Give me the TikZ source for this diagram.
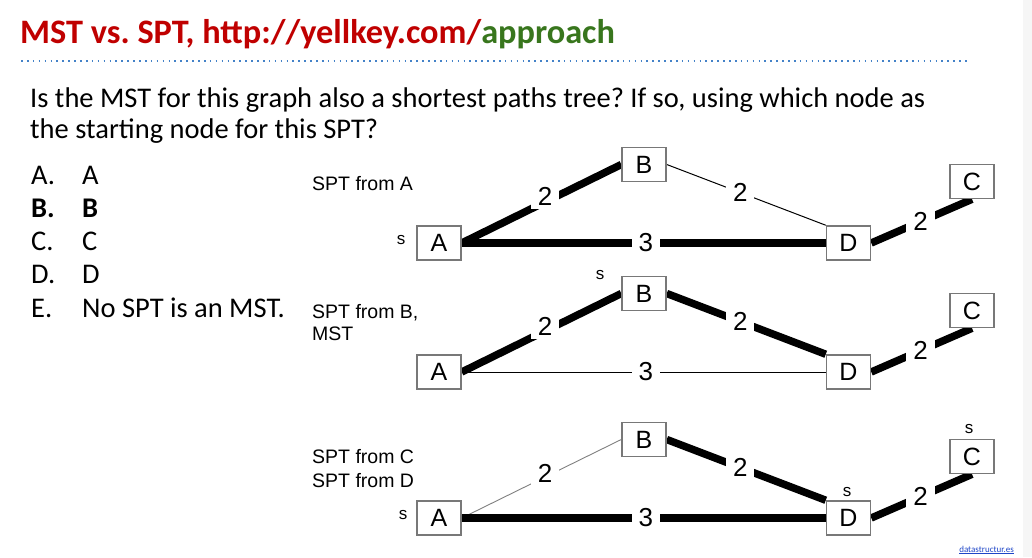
\documentclass[tikz,border=0pt]{standalone}
\usepackage{fontspec}
\setmainfont{Carlito}
\newfontfamily\arialf{Liberation Sans}
\frenchspacing
\definecolor{titlered}{RGB}{192,0,0}
\definecolor{titlegreen}{RGB}{56,118,29}
\definecolor{dotblue}{RGB}{68,130,200}
\definecolor{boxgray}{RGB}{120,120,120}
\definecolor{linkblue}{RGB}{30,70,200}
\tikzset{
  vbox/.style={draw=boxgray, line width=1.5pt, fill=white, text=black, minimum width=44pt, minimum height=34pt, inner sep=0pt, font=\arialf\fontsize{25}{28}\selectfont},
  thickE/.style={line width=7.5pt, black},
  thinE/.style={line width=1pt, black},
  thinG/.style={line width=0.9pt, draw=gray},
  wlab/.style={fill=white, text=black, inner xsep=7pt, inner ysep=3pt, font=\arialf\fontsize{26}{28}\selectfont},
  smallS/.style={anchor=base, inner sep=0pt, font=\arialf\fontsize{17}{18}\selectfont},
  sidelab/.style={anchor=base west, inner sep=0pt, font=\arialf\fontsize{19.5}{22}\selectfont},
  body/.style={anchor=base west, inner sep=0pt, font=\fontsize{28.5}{32}\selectfont}
}
\begin{document}
\begin{tikzpicture}[x=1pt,y=-1pt]
\useasboundingbox (0,0) rectangle (1032,557);
\fill[white] (0,0) rectangle (1032,557);
\fill[gray!7] (1023,0) rectangle (1032,557);

% title
\node[anchor=base west, inner sep=0pt, font=\fontsize{34.3}{40}\selectfont\bfseries] (title) at (20,43)
  {\textcolor{titlered}{MST vs. SPT, http://yellkey.com/}\textcolor{titlegreen}{approach}};
\coordinate (rl) at (21,61);
\coordinate (rr) at (968,61);
\draw[dotblue, line width=1.7pt, dash pattern=on 1.6pt off 4.3pt] (rl) -- (rr);

% question
\node[body] (q1) at (30,107) {Is the MST for this graph also a shortest paths tree? If so, using which node as};
\node[body] (q2) at (30,138) {the starting node for this SPT?};

% answers
\node[body] (la) at (31,184) {A.};   \node[body] (ta) at (82,184) {A};
\node[body, font=\fontsize{28.5}{32}\selectfont\bfseries] (lb) at (31,217) {B.};
\node[body, font=\fontsize{28.5}{32}\selectfont\bfseries] (tb) at (82,217) {B};
\node[body] (lc) at (31,250) {C.};   \node[body] (tc) at (82,250) {C};
\node[body] (ld) at (31,283.5) {D.};  \node[body] (td) at (82,283.5) {D};
\node[body] (le) at (31,317) {E.};   \node[body] (te) at (82,317) {No SPT is an MST.};

% side labels
\node[sidelab] (s1) at (312,190) {SPT from A};
\node[sidelab] (s2a) at (312,318) {SPT from B,};
\node[sidelab] (s2b) at (312,340) {MST};
\node[sidelab] (s3a) at (312,463) {SPT from C};
\node[sidelab] (s3b) at (312,487) {SPT from D};

% graph 1
\node[vbox] (A1) at (439,243) {A};
\node[vbox] (B1) at (644,164.5) {B};
\node[vbox] (D1) at (848.5,243) {D};
\node[vbox] (C1) at (972,181.5) {C};
\draw[thickE] (A1.east) -- node[wlab, xshift=3.5pt, yshift=7pt] {2} (B1.west);
\draw[thinE] (B1.east) -- node[wlab, xshift=-6pt, yshift=2pt] {2} (D1.north west);
\draw[thickE] (A1.east) -- node[wlab, xshift=2pt] {3} (D1.west);
\draw[thickE] (D1.east) -- node[wlab, xshift=-1pt] {2} (C1.south);
\node[vbox] at (A1) {A};
\node[vbox] at (B1) {B};
\node[vbox] at (D1) {D};
\node[vbox] at (C1) {C};
\node[smallS] (sA1) at (401,244) {s};

% graph 2
\node[vbox] (A2) at (439,372) {A};
\node[vbox] (B2) at (644,293.5) {B};
\node[vbox] (D2) at (848.5,372) {D};
\node[vbox] (C2) at (972,310.5) {C};
\draw[thickE] (A2.east) -- node[wlab, xshift=3.5pt, yshift=6pt] {2} (B2.west);
\draw[thickE] (B2.east) -- node[wlab, xshift=-6pt, yshift=2pt] {2} (D2.north west);
\draw[thinE] (A2.east) -- node[wlab, xshift=2pt] {3} (D2.west);
\draw[thickE] (D2.east) -- node[wlab, xshift=-1pt] {2} (C2.south);
\node[vbox] at (A2) {A};
\node[vbox] at (B2) {B};
\node[vbox] at (D2) {D};
\node[vbox] at (C2) {C};
\node[smallS] (sB2) at (600,279) {s};

% graph 3
\node[vbox] (A3) at (439,518) {A};
\node[vbox] (B3) at (644,439.5) {B};
\node[vbox] (D3) at (848.5,518) {D};
\node[vbox] (C3) at (972,456.5) {C};
\draw[thinG] (A3.east) -- node[wlab, xshift=3.5pt, yshift=5.5pt] {2} (B3.west);
\draw[thickE] (B3.east) -- node[wlab, xshift=-6pt, yshift=2pt] {2} (D3.north west);
\draw[thickE] (A3.east) -- node[wlab, xshift=2pt] {3} (D3.west);
\draw[thickE] (D3.east) -- node[wlab, xshift=-1pt] {2} (C3.south);
\node[vbox] at (A3) {A};
\node[vbox] at (B3) {B};
\node[vbox] at (D3) {D};
\node[vbox] at (C3) {C};
\node[smallS] (sA3) at (403,519) {s};
\node[smallS] (sD3) at (847,496) {s};
\node[smallS] (sC3) at (969,433) {s};

% footer link
\node[anchor=base east, inner sep=0pt, font=\fontsize{9}{10}\selectfont, text=linkblue] (link) at (1014,552) {\underline{datastructur.es}};
\end{tikzpicture}
\end{document}
